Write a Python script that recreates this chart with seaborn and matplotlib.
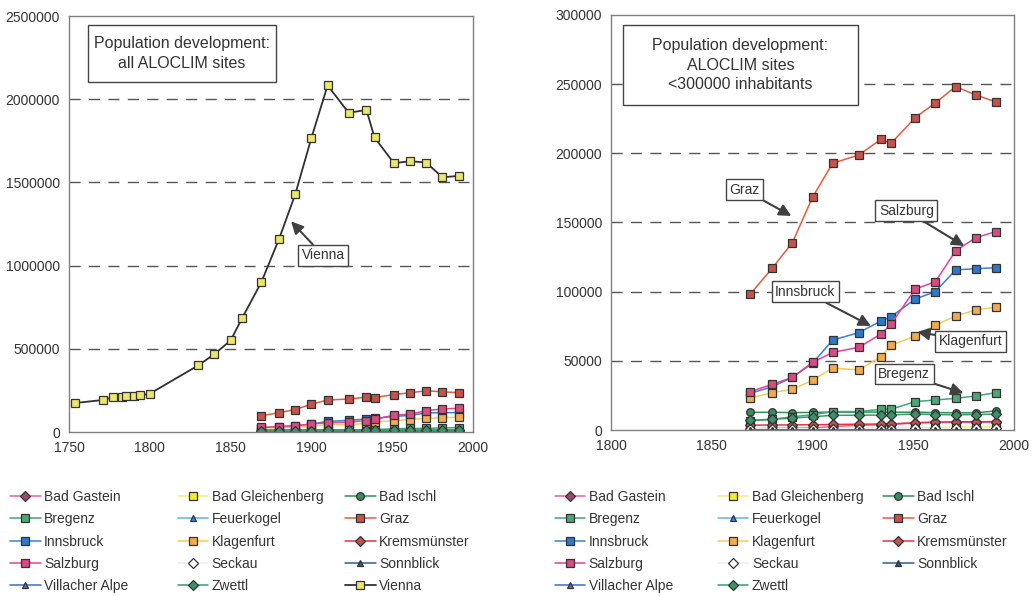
import matplotlib
matplotlib.use("Agg")
import matplotlib.pyplot as plt
from matplotlib.patches import Rectangle
import seaborn as sns

# census years (Austria) used for all sites
years = [1869, 1880, 1890, 1900, 1910, 1923, 1934, 1939, 1951, 1961, 1971, 1981, 1991]

vienna_years = [1754, 1771, 1777, 1783, 1785, 1790, 1794, 1800, 1830, 1840, 1850, 1857,
                1869, 1880, 1890, 1900, 1910, 1923, 1934, 1939, 1951, 1961, 1971, 1981, 1991]
vienna = [175000, 193000, 209000, 212000, 214000, 218000, 220000, 231000, 401000, 469000,
          551000, 683000, 901000, 1162000, 1430000, 1769000, 2084000, 1919000, 1936000,
          1771000, 1616000, 1628000, 1620000, 1531000, 1540000]

bad_gastein = [1000, 1200, 1300, 1500, 2500, 3400, 3800, 4000, 5100, 5500, 5700, 5600, 5700]
bad_gleichenberg = [500, 600, 700, 800, 1000, 1100, 1200, 1200, 1500, 1800, 2100, 2300, 2400]
bad_ischl = [12800, 12800, 12600, 12700, 13000, 12900, 13000, 12800, 12900, 12600, 12500, 12400, 13800]
bregenz = [6700, 7700, 9600, 11000, 13300, 13300, 15000, 15000, 20500, 21700, 22900, 24600, 27000]
feuerkogel = [0] * 13
graz = [98000, 117000, 135400, 168200, 192800, 198800, 210100, 207200, 225800, 236400, 248200, 242200, 237100]
innsbruck = [26500, 31300, 38000, 48200, 65000, 70400, 78800, 81900, 94700, 100000, 115700, 116600, 117300]
klagenfurt = [23100, 27000, 29400, 35900, 44800, 43400, 53000, 61200, 68000, 75700, 82400, 86700, 88900]
kremsmuenster = [3500, 3600, 3700, 3800, 4000, 4200, 4300, 4400, 5300, 5700, 5900, 6000, 6100]
salzburg = [27700, 33000, 38100, 48900, 56100, 59800, 69400, 76600, 101900, 107200, 129400, 139000, 143400]
seckau = [900, 900, 900, 950, 1000, 1000, 1050, 1050, 1100, 1100, 1150, 1150, 1200]
sonnblick = [0] * 13
villacher_alpe = [0] * 13
zwettl = [7000, 7800, 8600, 9600, 10600, 10700, 10800, 10900, 11600, 11200, 11000, 11200, 11500]

# name, values, line colour, marker, marker face colour
series = [
    ("Bad Gastein", bad_gastein, "#e8609e", "D", "#9a4a6a"),
    ("Bad Gleichenberg", bad_gleichenberg, "#f2ee7a", "s", "#f4ea30"),
    ("Bad Ischl", bad_ischl, "#2f8f55", "o", "#3d8a5c"),
    ("Bregenz", bregenz, "#3aa878", "s", "#4ea677"),
    ("Feuerkogel", feuerkogel, "#5ab8e4", "^", "#3a8ad0"),
    ("Graz", graz, "#e85a3c", "s", "#c4534c"),
    ("Innsbruck", innsbruck, "#3a80d4", "s", "#2e78c8"),
    ("Klagenfurt", klagenfurt, "#f4cc58", "s", "#f0ac50"),
    ("Kremsmünster", kremsmuenster, "#ec3040", "D", "#c45050"),
    ("Salzburg", salzburg, "#e8409a", "s", "#d84c82"),
    ("Seckau", seckau, "#eeeeee", "D", "#ffffff"),
    ("Sonnblick", sonnblick, "#2c5c9c", "^", "#2c5c9c"),
    ("Villacher Alpe", villacher_alpe, "#3a6cc4", "^", "#4a78b8"),
    ("Zwettl", zwettl, "#3a9a6c", "D", "#3f9068"),
]

sns.set_style("white")
plt.rcParams["font.family"] = ["Liberation Sans", "DejaVu Sans"]

W, H = 1033, 596
fig = plt.figure(figsize=(10.33, 5.96), dpi=100)
ax1 = fig.add_axes([0.0668, 0.275, 0.3912, 0.698])
ax2 = fig.add_axes([0.5915, 0.2785, 0.3901, 0.6965])


def draw_series(ax, with_vienna):
    for name, vals, lc, mk, fc in series:
        ms = 5.5 if mk in ("s", "o") else 5
        sns.lineplot(x=years, y=vals, ax=ax, color=lc, lw=1.1, marker=mk, markersize=ms,
                     markerfacecolor=fc, markeredgecolor="#333333", markeredgewidth=0.9,
                     label=name)
    if with_vienna:
        sns.lineplot(x=vienna_years, y=vienna, ax=ax, color="#303030", lw=1.3, marker="s",
                     markersize=6, markerfacecolor="#ece66a", markeredgecolor="#333333",
                     markeredgewidth=0.9, label="Vienna")
    if ax.get_legend() is not None:
        ax.get_legend().remove()


def style_axes(ax, xlim, xticks, ylim, yticks):
    ax.set_xlim(*xlim)
    ax.set_ylim(*ylim)
    ax.set_xticks(xticks)
    ax.set_yticks(yticks)
    ax.set_xticklabels([str(t) for t in xticks])
    ax.set_yticklabels([str(t) for t in yticks])
    ax.set_xlabel("")
    ax.set_ylabel("")
    for t in yticks[1:-1]:
        ax.axhline(t, color="#555555", lw=1.0, ls=(0, (8, 6)), zorder=0)
    for sp in ax.spines.values():
        sp.set_color("#808080")
        sp.set_linewidth(1.0)
    ax.tick_params(axis="both", labelsize=10, colors="#333333", direction="inout",
                   length=5, width=0.8, pad=4)


draw_series(ax1, True)
style_axes(ax1, (1750, 2000), [1750, 1800, 1850, 1900, 1950, 2000],
           (0, 2500000), [0, 500000, 1000000, 1500000, 2000000, 2500000])
draw_series(ax2, False)
style_axes(ax2, (1800, 2000), [1800, 1850, 1900, 1950, 2000],
           (0, 300000), [0, 50000, 100000, 150000, 200000, 250000, 300000])


def title_box(x0, y0, x1, y1, text):
    # box given in pixel coordinates of the picture (top-left origin)
    fig.patches.append(Rectangle((x0 / W, 1 - y1 / H), (x1 - x0) / W, (y1 - y0) / H,
                                 transform=fig.transFigure, facecolor="white",
                                 edgecolor="#444444", lw=1.0, zorder=5))
    fig.text((x0 + x1) / 2 / W, 1 - (y0 + y1) / 2 / H, text, ha="center", va="center",
             fontsize=11.5, color="#333333", linespacing=1.4, zorder=6)


title_box(88, 25, 276, 82, "Population development:\nall ALOCLIM sites")
title_box(623, 25, 858, 105, "Population development:\nALOCLIM sites\n<300000 inhabitants")

lbl_box = dict(boxstyle="square,pad=0.25", facecolor="white", edgecolor="#444444", lw=1.0)
arrow = dict(arrowstyle="-|>", color="#404040", lw=1.5, mutation_scale=18, shrinkA=0, shrinkB=0)

ax1.annotate("Vienna", xy=(1887.4, 1266000), xytext=(1907.2, 1062000), ha="center",
             va="center", fontsize=10, color="#333333", bbox=lbl_box, arrowprops=arrow,
             zorder=6)

labels_right = [
    ("Graz", (1889.5, 154700), (1866.2, 173500)),
    ("Salzburg", (1975.3, 133000), (1946.6, 158300)),
    ("Innsbruck", (1929.0, 75200), (1896.4, 99800)),
    ("Klagenfurt", (1952.0, 70900), (1978.3, 64300)),
    ("Bregenz", (1974.9, 26700), (1945.5, 40500)),
]
for txt, xy, xytext in labels_right:
    ax2.annotate(txt, xy=xy, xytext=xytext, ha="center", va="center", fontsize=10,
                 color="#333333", bbox=lbl_box, arrowprops=arrow, zorder=6)


def add_legends(ax, xs, top):
    hl = [(h, h.get_label()) for h in ax.get_lines() if not h.get_label().startswith("_")]
    for c, x in enumerate(xs):
        col = hl[c::3]
        fig.legend([h for h, _ in col], [l for _, l in col], loc="upper left",
                   bbox_to_anchor=(x, top), frameon=False, fontsize=10,
                   handlelength=2.2, handletextpad=0.25, labelspacing=0.6,
                   borderpad=0, borderaxespad=0, labelcolor="#333333")


add_legends(ax1, [0.0097, 0.172, 0.334], 0.178)
add_legends(ax2, [0.537, 0.695, 0.855], 0.178)

fig.savefig("out.png", dpi=100, facecolor="white")
